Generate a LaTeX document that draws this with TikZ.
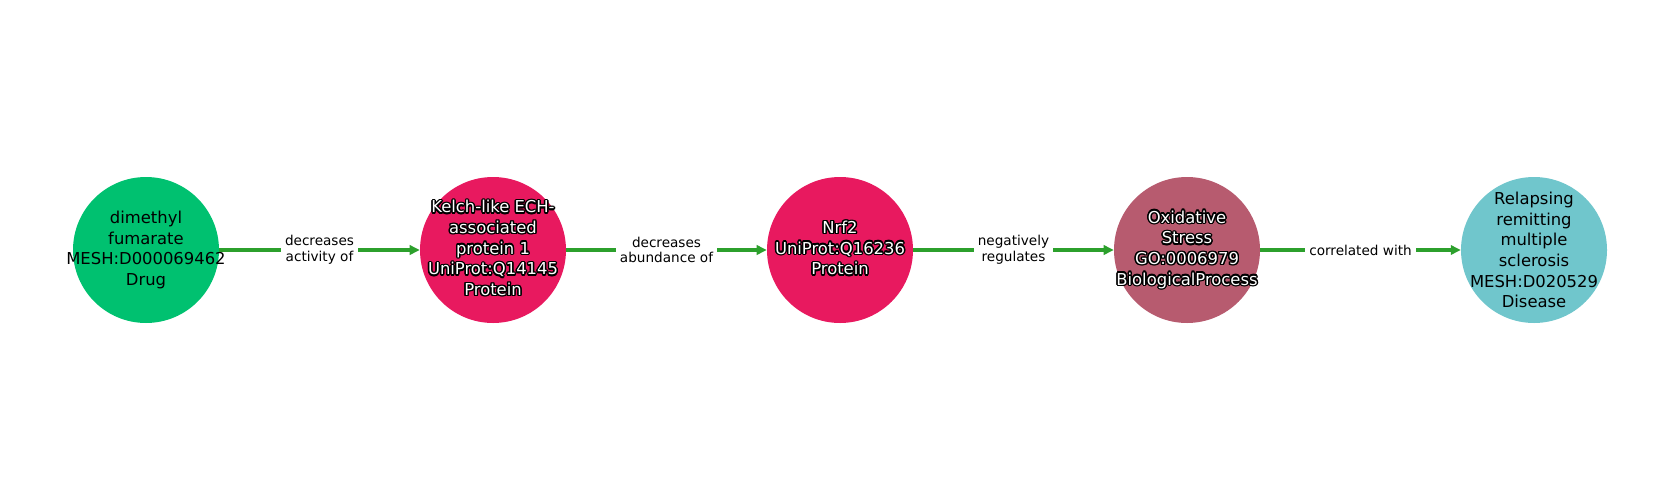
\documentclass[tikz,border=0pt]{standalone}
\usepackage{fontspec}
\setmainfont{DejaVu Sans}
\usepackage{array}
\usetikzlibrary{arrows.meta}

\definecolor{drugcol}{RGB}{0,193,112}
\definecolor{proteincol}{RGB}{232,25,95}
\definecolor{processcol}{RGB}{183,91,111}
\definecolor{diseasecol}{RGB}{112,198,204}
\definecolor{edgecol}{RGB}{44,160,44}

\newsavebox\haloblack
\newsavebox\halowhite
\newcommand{\halo}[1]{%
  \sbox\haloblack{\begin{tabular}{@{}>{\color{black}}c@{}}#1\end{tabular}}%
  \sbox\halowhite{\begin{tabular}{@{}>{\color{white}}c@{}}#1\end{tabular}}%
  \foreach \ang in {0,30,...,330}{%
    \pgfmathsetlengthmacro\hx{1.1pt*cos(\ang)}%
    \pgfmathsetlengthmacro\hy{1.1pt*sin(\ang)}%
    \rlap{\hspace*{\hx}\raisebox{\hy}{\usebox\haloblack}}}%
  \usebox\halowhite}

\tikzset{
  entity/.style={circle, minimum size=109.5pt, inner sep=0pt},
  entitytext/.style={inner sep=0pt, align=center,
    font=\fontsize{12.3}{15.5}\selectfont},
  rel/.style={line width=2.8pt, draw=edgecol,
    -{Triangle[length=7.5pt,width=7pt]}},
  rellabel/.style={fill=white, inner sep=3pt, align=center,
    font=\fontsize{10.2}{11.8}\selectfont}
}

\begin{document}
\begin{tikzpicture}[x=0.75pt, y=0.75pt]
  \useasboundingbox (0, 0) rectangle (1680, -500);

  % entities
  \node [entity, fill=drugcol] (dmf) at (146, -250) {};
  \node [entity, fill=proteincol] (keap) at (493, -250) {};
  \node [entity, fill=proteincol] (nrf) at (840, -250) {};
  \node [entity, fill=processcol] (ox) at (1187, -250) {};
  \node [entity, fill=diseasecol] (rrms) at (1534, -250) {};

  \node [entitytext] (dmftext) at (dmf)
    {dimethyl\\fumarate\\MESH:D000069462\\Drug};
  \node [entitytext] (keaptext) at (keap)
    {\halo{Kelch-like ECH-\\associated\\protein 1\\UniProt:Q14145\\Protein}};
  \node [entitytext] (nrftext) at (nrf)
    {\halo{Nrf2\\UniProt:Q16236\\Protein}};
  \node [entitytext] (oxtext) at (ox)
    {\halo{Oxidative\\Stress\\GO:0006979\\BiologicalProcess}};
  \node [entitytext] (rrmstext) at (rrms)
    {Relapsing\\remitting\\multiple\\sclerosis\\MESH:D020529\\Disease};

  % relations
  \draw [rel] (dmf) -- node [rellabel] (l1) {decreases\\activity of} (keap);
  \draw [rel] (keap) -- node [rellabel] (l2) {decreases\\abundance of} (nrf);
  \draw [rel] (nrf) -- node [rellabel] (l3) {negatively\\regulates} (ox);
  \draw [rel] (ox) -- node [rellabel] (l4) {correlated with} (rrms);
\end{tikzpicture}
\end{document}
